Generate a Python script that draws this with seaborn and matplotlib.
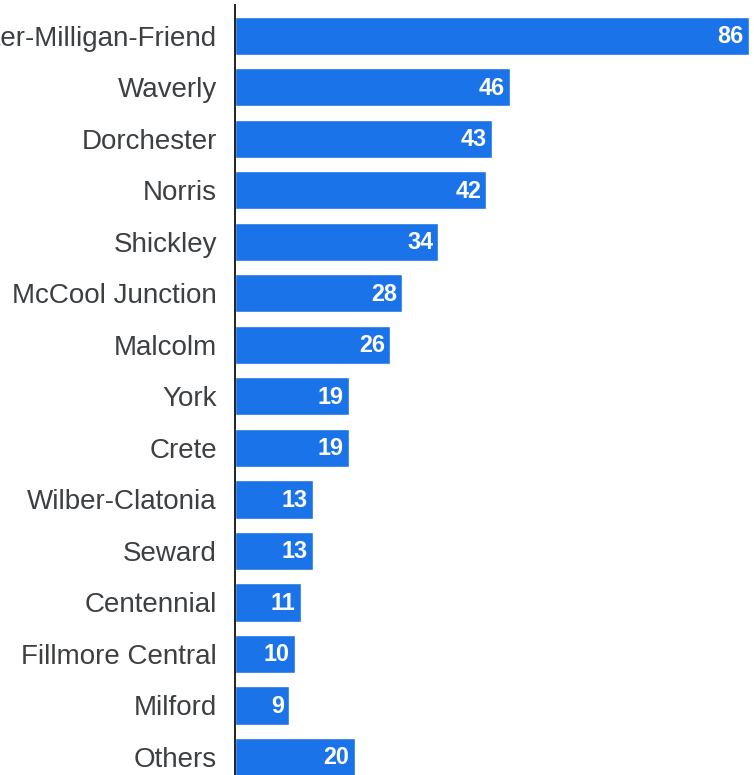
import matplotlib
matplotlib.use("Agg")
import matplotlib.pyplot as plt
import seaborn as sns
import pandas as pd

categories = ["Exeter-Milligan-Friend", "Waverly", "Dorchester", "Norris", "Shickley",
              "McCool Junction", "Malcolm", "York", "Crete", "Wilber-Clatonia",
              "Seward", "Centennial", "Fillmore Central", "Milford", "Others"]
values = [86, 46, 43, 42, 34, 28, 26, 19, 19, 13, 13, 11, 10, 9, 20]

sns.set_theme(style="white")
plt.rcParams['font.family'] = ['Liberation Sans', 'DejaVu Sans']

df = pd.DataFrame({"school": categories, "count": values})

fig = plt.figure(figsize=(7.54, 7.75), dpi=100)
ax = fig.add_axes([235 / 754, 0.0, (749 - 235) / 754, 1 - 5 / 775])

sns.barplot(data=df, x="count", y="school", orient="h", color="#1a73e8",
            saturation=1, width=0.74, ax=ax)

ax.set_xlim(0, 86)
ax.set_ylim(14.35, -0.6)

for i, v in enumerate(values):
    ax.annotate(str(v), xy=(v, i), xytext=(-5, -1), textcoords="offset pixels",
                ha="right", va="center", color="white", fontsize=16.8,
                fontweight="bold")

for s in ["top", "right", "bottom"]:
    ax.spines[s].set_visible(False)
ax.spines["left"].set_color("#222222")
ax.spines["left"].set_linewidth(1.4)

ax.set_xlabel("")
ax.set_ylabel("")
ax.set_xticks([])
ax.tick_params(axis="y", length=0, pad=13, labelsize=20.0, labelcolor="#3c4043")

fig.savefig("out.png", dpi=100)
